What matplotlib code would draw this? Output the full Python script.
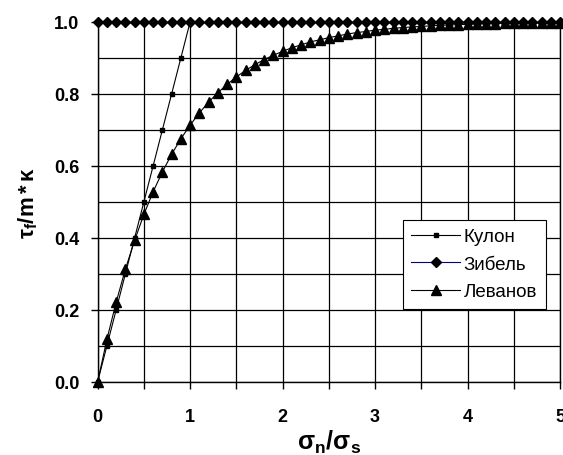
import matplotlib
matplotlib.use("Agg")
import matplotlib.pyplot as plt
from matplotlib.ticker import MultipleLocator, FormatStrFormatter

plt.rcParams["font.family"] = ["Liberation Sans", "DejaVu Sans"]
plt.rcParams["mathtext.fontset"] = "custom"
plt.rcParams["mathtext.rm"] = "Liberation Sans"
plt.rcParams["mathtext.it"] = "Liberation Sans"
plt.rcParams["mathtext.bf"] = "Liberation Sans:bold"

# Кулон
x_coulomb = [0.0, 0.1, 0.2, 0.3, 0.4, 0.5, 0.6, 0.7, 0.8, 0.9, 1.0]
y_coulomb = [0.0, 0.1, 0.2, 0.3, 0.4, 0.5, 0.6, 0.7, 0.8, 0.9, 1.0]

# общая сетка по σn/σs для Зибель и Леванов
x_full = [0.0, 0.1, 0.2, 0.3, 0.4, 0.5, 0.6, 0.7, 0.8, 0.9,
          1.0, 1.1, 1.2, 1.3, 1.4, 1.5, 1.6, 1.7, 1.8, 1.9,
          2.0, 2.1, 2.2, 2.3, 2.4, 2.5, 2.6, 2.7, 2.8, 2.9,
          3.0, 3.1, 3.2, 3.3, 3.4, 3.5, 3.6, 3.7, 3.8, 3.9,
          4.0, 4.1, 4.2, 4.3, 4.4, 4.5, 4.6, 4.7, 4.8, 4.9, 5.0]

y_sibel = [1.0, 1.0, 1.0, 1.0, 1.0, 1.0, 1.0, 1.0, 1.0, 1.0,
           1.0, 1.0, 1.0, 1.0, 1.0, 1.0, 1.0, 1.0, 1.0, 1.0,
           1.0, 1.0, 1.0, 1.0, 1.0, 1.0, 1.0, 1.0, 1.0, 1.0,
           1.0, 1.0, 1.0, 1.0, 1.0, 1.0, 1.0, 1.0, 1.0, 1.0,
           1.0, 1.0, 1.0, 1.0, 1.0, 1.0, 1.0, 1.0, 1.0, 1.0, 1.0]

y_levanov = [0.0, 0.118, 0.221, 0.313, 0.393, 0.465, 0.528, 0.583, 0.632, 0.675,
             0.713, 0.747, 0.777, 0.803, 0.826, 0.847, 0.865, 0.881, 0.895, 0.907,
             0.918, 0.928, 0.936, 0.944, 0.950, 0.956, 0.961, 0.966, 0.970, 0.973,
             0.977, 0.979, 0.982, 0.984, 0.986, 0.987, 0.989, 0.990, 0.991, 0.992,
             0.993, 0.994, 0.995, 0.995, 0.996, 0.996, 0.997, 0.997, 0.998, 0.998, 0.998]

fig = plt.figure(figsize=(5.63, 4.56), dpi=100)
ax = fig.add_axes([0.1735, 0.1607, 0.8212, 0.7893])

ax.plot(x_coulomb, y_coulomb, color="black", lw=0.8, marker="s", ms=3.5,
        label="Кулон", clip_on=False, zorder=3)
ax.plot(x_full, y_sibel, color="#000080", lw=0.8, marker="D", ms=5,
        mfc="black", mec="black", label="Зибель", clip_on=False, zorder=3)
ax.plot(x_full, y_levanov, color="black", lw=0.8, marker="^", ms=7,
        label="Леванов", clip_on=False, zorder=3)

ax.set_xlim(0, 5)
ax.set_ylim(0, 1)
ax.xaxis.set_major_locator(MultipleLocator(1))
ax.xaxis.set_minor_locator(MultipleLocator(0.5))
ax.yaxis.set_major_locator(MultipleLocator(0.2))
ax.yaxis.set_minor_locator(MultipleLocator(0.1))
ax.yaxis.set_major_formatter(FormatStrFormatter("%.1f"))
ax.grid(True, which="both", color="black", lw=0.9)
ax.tick_params(axis="x", which="both", direction="out", length=5, width=1, color="black")
ax.tick_params(axis="x", which="major", pad=14)
ax.tick_params(axis="y", which="major", direction="out", length=5, width=1, pad=8)
ax.tick_params(axis="y", which="minor", length=0)
ax.tick_params(labelsize=13)
for lab in ax.get_xticklabels() + ax.get_yticklabels():
    lab.set_fontweight("bold")
for s in ax.spines.values():
    s.set_linewidth(1)

ax.set_xlabel(r"$\mathbf{σ_n/σ_s}$", fontsize=18, labelpad=2)
ax.set_ylabel(r"$\mathbf{τ_f/m*κ}$", fontsize=16, labelpad=10)

leg = ax.legend(loc="upper left", bbox_to_anchor=(0.66, 0.45), fontsize=13.5,
                frameon=True, fancybox=False, framealpha=1, edgecolor="black",
                borderpad=0.45, labelspacing=0.55, handlelength=2.6, handletextpad=0.2,
                borderaxespad=0)
leg.get_frame().set_linewidth(0.8)

fig.savefig("out.png", dpi=100)
